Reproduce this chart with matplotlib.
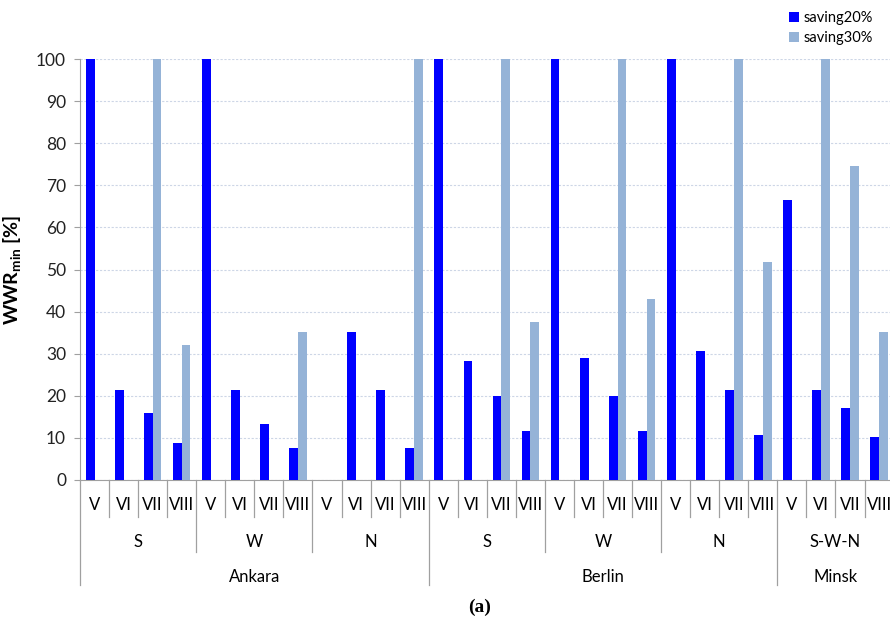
import numpy as np
import matplotlib.pyplot as plt
import matplotlib.transforms as mtransforms

plt.rcParams['font.family'] = ['Lato', 'DejaVu Sans']
plt.rcParams['mathtext.fontset'] = 'custom'
plt.rcParams['mathtext.bf'] = 'Lato:bold'

cities = ['Ankara', 'Berlin', 'Minsk']
city_dirs = [['S', 'W', 'N'], ['S', 'W', 'N'], ['S-W-N']]
types = ['V', 'VI', 'VII', 'VIII']

saving20 = [100, 21.4, 15.8, 8.7, 100, 21.4, 13.2, 7.5, 0, 35.2, 21.4, 7.5,
            100, 28.3, 20.0, 11.6, 100, 28.9, 20.0, 11.6, 100, 30.7, 21.4, 10.8,
            66.6, 21.4, 17.0, 10.1]
saving30 = [0, 0, 100, 32.1, 0, 0, 0, 35.2, 0, 0, 0, 100,
            0, 0, 100, 37.6, 0, 0, 100, 42.9, 0, 0, 100, 51.7,
            0, 100, 74.5, 35.2]

W, H = 890, 622
fig = plt.figure(figsize=(W / 100, H / 100), dpi=100)
# plot area in pixels: x 80..893.6, y 59..480
ax = fig.add_axes([80 / W, (H - 480) / H, (893.6 - 80) / W, (480 - 59) / H])

n = len(saving20)
x = np.arange(n)
bw = 0.3
ax.bar(x - bw / 2, saving20, bw, color='#0000ff', label='saving20%', zorder=3)
ax.bar(x + bw / 2, saving30, bw, color='#95b3d7', label='saving30%', zorder=3)

ax.set_xlim(-0.5, n - 0.5)
ax.set_ylim(0, 100)
ax.set_yticks(np.arange(0, 101, 10))
ax.set_xticks([])
ax.tick_params(axis='y', labelsize=12.5, length=4, color='#a0a0a0', pad=6, labelcolor='#222222')
for s in ['top', 'right']:
    ax.spines[s].set_visible(False)
for s in ['left', 'bottom']:
    ax.spines[s].set_color('#a0a0a0')
ax.yaxis.grid(True, color='#cdd6e6', linestyle=(0, (2, 1.5)), linewidth=0.8, zorder=0)
ax.set_ylabel(r'WWR$_{\mathbf{min}}$ [%]', fontsize=14, fontweight='bold', labelpad=9)

trans = mtransforms.blended_transform_factory(ax.transData, ax.transAxes)
lc = '#a0a0a0'
y_num, y_dir, y_city = -0.088, -0.171, -0.249

# roman numeral labels and separators
for i in range(n):
    ax.text(i, -0.059, types[i % 4], transform=trans, ha='center', va='center', fontsize=12)
pos = 0
bounds_dir = [-0.5]
bounds_city = [-0.5]
for ci, city in enumerate(cities):
    start = pos
    for d in city_dirs[ci]:
        ax.text(pos + 1.5, -0.147, d, transform=trans, ha='center', va='center', fontsize=12)
        pos += 4
        bounds_dir.append(pos - 0.5)
    ax.text((start + pos - 1) / 2, -0.230, city, transform=trans, ha='center', va='center', fontsize=12)
    bounds_city.append(pos - 0.5)

for i in range(n + 1):
    b = i - 0.5
    if b in bounds_city:
        y1 = y_city
    elif b in bounds_dir:
        y1 = y_dir
    else:
        y1 = y_num
    ax.plot([b, b], [0, y1], transform=trans, color=lc, linewidth=0.9, clip_on=False)

fig.text(480 / W, 1 - 607 / H, '(a)', ha='center', va='center', fontsize=14,
         fontweight='bold', family='Liberation Serif')

ax.legend(loc='upper left', bbox_to_anchor=(783 / W, 1 - 5 / H), bbox_transform=fig.transFigure,
          frameon=False, fontsize=10.5, handlelength=0.7, handleheight=0.7,
          handletextpad=0.3, labelspacing=0.45, borderaxespad=0)

fig.savefig('out.png', dpi=100)
